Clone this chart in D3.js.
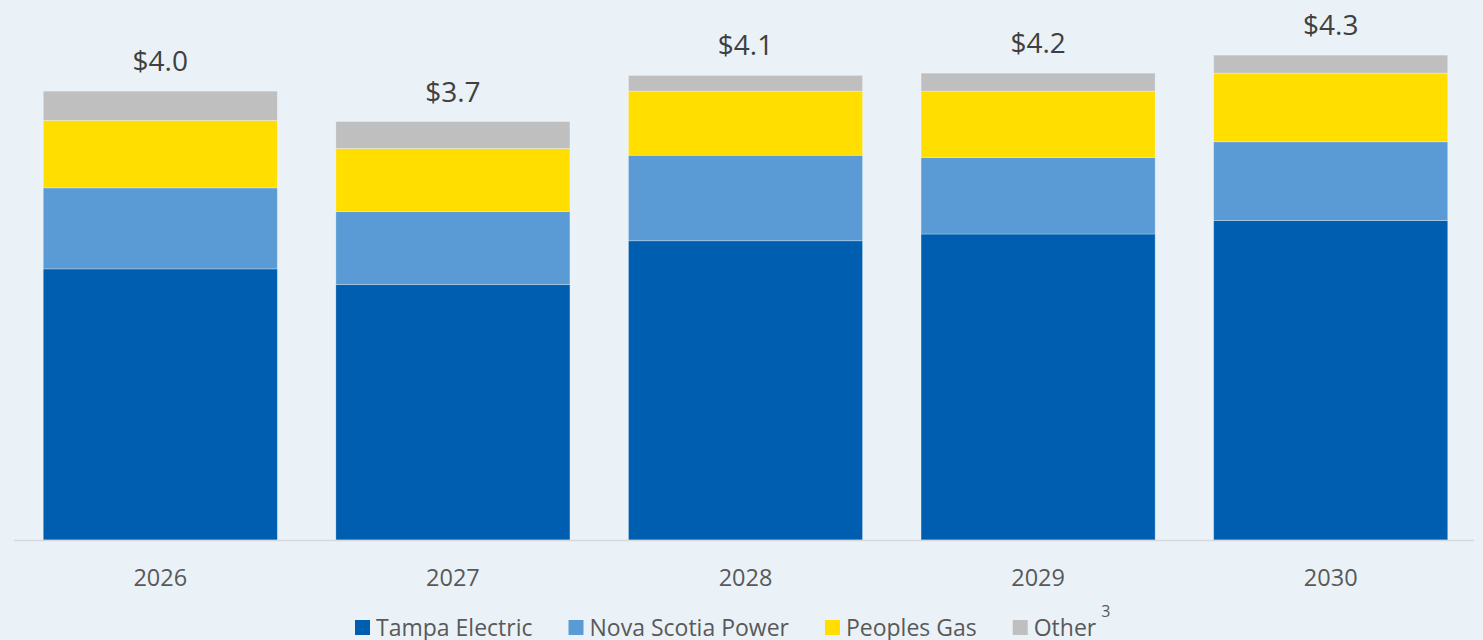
<!DOCTYPE html>
<html>
<head>
<meta charset="utf-8">
<script src="https://cdn.jsdelivr.net/npm/d3@7"></script>
<style>
  html, body { margin: 0; padding: 0; background: #eaf2f8; }
  svg { display: block; font-family: 'Open Sans', 'Noto Sans', sans-serif; }
</style>
</head>
<body>
<div id="chart"></div>
<script>
// capital plan by year, $ billions
var years = ['2026', '2027', '2028', '2029', '2030'];
var seriesNames = ['Tampa Electric', 'Nova Scotia Power', 'Peoples Gas', 'Other'];
var tampaElectric = [2.41, 2.27, 2.66, 2.72, 2.84];
var novaScotiaPower = [0.72, 0.65, 0.76, 0.68, 0.70];
var peoplesGas = [0.60, 0.56, 0.57, 0.59, 0.61];
var other = [0.26, 0.24, 0.14, 0.16, 0.16];
var totalLabels = ['$4.0', '$3.7', '$4.1', '$4.2', '$4.3'];

var colors = ['#005eb0', '#5b9bd5', '#ffde00', '#bfbfbf'];
var width = 1483, height = 640;

var rows = years.map(function(y, i) {
  return { year: y, 'Tampa Electric': tampaElectric[i], 'Nova Scotia Power': novaScotiaPower[i],
    'Peoples Gas': peoplesGas[i], 'Other': other[i], label: totalLabels[i] };
});
var stacked = d3.stack().keys(seriesNames)(rows);

var svg = d3.select('#chart').append('svg:svg')
  .attr('width', width)
  .attr('height', height);

var x = d3.scaleBand()
  .domain(years)
  .range([14, 1477])
  .paddingInner(0.2)
  .paddingOuter(0.1);

var y = d3.scaleLinear()
  .domain([0, 4.8])
  .range([540, 0]);

var layer = svg.selectAll('g.layer')
  .data(stacked)
  .enter().append('svg:g')
  .attr('class', 'layer')
  .attr('fill', function(d, i) { return colors[i]; });

layer.selectAll('rect')
  .data(function(d) { return d; })
  .enter().append('svg:rect')
  .attr('x', function(d) { return x(d.data.year); })
  .attr('y', function(d) { return y(d[1]); })
  .attr('width', x.bandwidth())
  .attr('height', function(d) { return y(d[0]) - y(d[1]); })
  .attr('stroke', '#ffffff')
  .attr('stroke-opacity', 0.35)
  .attr('stroke-width', 0.8);

// axis
var xAxis = svg.append('svg:g')
  .attr('transform', 'translate(0,540)')
  .call(d3.axisBottom(x).tickSize(0).tickPadding(0));
xAxis.select('.domain')
  .attr('d', 'M14,0.5H1474')
  .attr('stroke', '#d6d9dc')
  .attr('stroke-width', 1.5);
xAxis.selectAll('text')
  .attr('y', 46)
  .attr('dy', 0)
  .attr('fill', '#595959')
  .attr('font-size', 23.5)
  .attr('font-family', "'Open Sans', sans-serif");

// totals above bars
svg.append('svg:g').selectAll('text')
  .data(rows)
  .enter().append('svg:text')
  .attr('x', function(d) { return x(d.year) + x.bandwidth() / 2; })
  .attr('y', function(d, i) { return y(d3.sum(seriesNames, function(k) { return d[k]; })) - 20; })
  .attr('text-anchor', 'middle')
  .attr('fill', '#404040')
  .attr('font-size', 28)
  .text(function(d) { return d.label; });

// legend
var legend = svg.append('svg:g');
var lx = 355;
seriesNames.forEach(function(name, i) {
  legend.append('svg:rect')
    .attr('x', lx)
    .attr('y', 620)
    .attr('width', 15)
    .attr('height', 15)
    .attr('fill', colors[i]);
  var t = legend.append('svg:text')
    .attr('x', lx + 21)
    .attr('y', 636)
    .attr('fill', '#595959')
    .attr('font-size', 23)
    .text(name);
  var w = t.node().getComputedTextLength();
  if (name === 'Other') {
    legend.append('svg:text')
      .attr('x', lx + 21 + w + 5)
      .attr('y', 617)
      .attr('fill', '#595959')
      .attr('font-size', 16)
      .text('3');
  }
  lx += 21 + w + 36;
});
</script>
</body>
</html>
